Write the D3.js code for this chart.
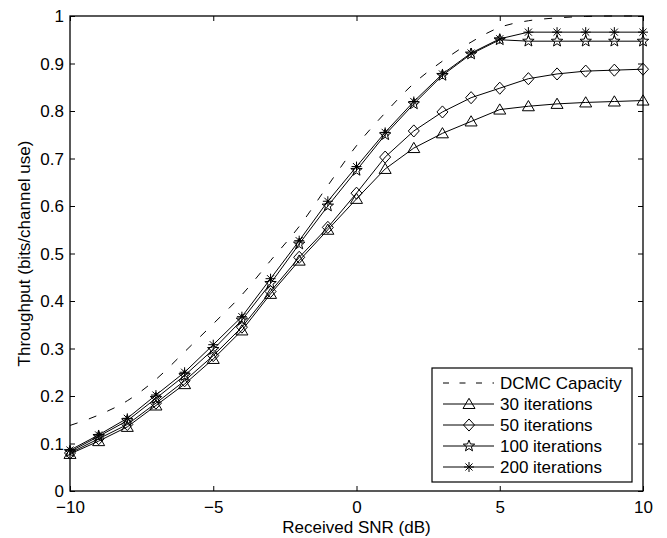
<!DOCTYPE html>
<html><head><meta charset="utf-8">
<script src="https://cdn.jsdelivr.net/npm/d3@7"></script>
<style>body{margin:0;background:#fff}svg{display:block}text{font-family:"Liberation Sans",Arial,Helvetica,sans-serif;fill:#000}</style>
</head><body><svg id="c" width="667" height="538"></svg>
<script>
const snr = [-10,-9,-8,-7,-6,-5,-4,-3,-2,-1,0,1,2,3,4,5,6,7,8,9,10];
const dcmc = [0.138,0.160,0.190,0.235,0.293,0.352,0.413,0.485,0.557,0.643,0.727,0.796,0.858,0.905,0.945,0.976,0.990,0.996,0.999,1.0,1.0];
const it30 = [0.078,0.105,0.135,0.180,0.225,0.278,0.338,0.415,0.485,0.550,0.615,0.678,0.722,0.753,0.778,0.803,0.810,0.815,0.818,0.820,0.822];
const it50 = [0.080,0.110,0.140,0.185,0.232,0.285,0.345,0.420,0.492,0.555,0.627,0.703,0.758,0.798,0.828,0.848,0.868,0.878,0.884,0.886,0.888];
const it100 = [0.083,0.115,0.148,0.195,0.243,0.298,0.360,0.437,0.520,0.600,0.675,0.750,0.815,0.875,0.920,0.950,0.947,0.947,0.947,0.947,0.947];
const it200 = [0.086,0.118,0.153,0.202,0.250,0.308,0.367,0.447,0.527,0.610,0.683,0.755,0.820,0.878,0.922,0.952,0.966,0.966,0.966,0.966,0.966];
const xTicks = [-10,-5,0,5,10];
const yTicks = [0,0.1,0.2,0.3,0.4,0.5,0.6,0.7,0.8,0.9,1];
const legendLabels = ["DCMC Capacity","30 iterations","50 iterations","100 iterations","200 iterations"];

const L=70,R=643,T=16,B=491, FS=17;
const svg=d3.select("#c");
const x=d3.scaleLinear().domain([-10,10]).range([L,R]);
const y=d3.scaleLinear().domain([0,1]).range([B,T]);

// ticks (inward, all sides)
const g=svg.append("g");
const axB=g.append("g").attr("transform",`translate(0,${B})`).call(d3.axisBottom(x).tickValues(xTicks).tickSizeInner(-5).tickSizeOuter(0).tickFormat(d=>d<0?"\u2212"+Math.abs(d):d));
const axL=g.append("g").attr("transform",`translate(${L},0)`).call(d3.axisLeft(y).tickValues(yTicks).tickSizeInner(-5).tickSizeOuter(0).tickFormat(d=>d===0?"0":d===1?"1":d3.format(".1f")(d)));
const axT=g.append("g").attr("transform",`translate(0,${T})`).call(d3.axisTop(x).tickValues(xTicks).tickSizeInner(-5).tickSizeOuter(0).tickFormat(""));
const axR=g.append("g").attr("transform",`translate(${R},0)`).call(d3.axisRight(y).tickValues(yTicks).tickSizeInner(-5).tickSizeOuter(0).tickFormat(""));
[axB,axL,axT,axR].forEach(a=>{a.select(".domain").remove();a.selectAll("line").attr("stroke","#000").attr("stroke-width",1);});
axB.selectAll("text").attr("font-size",FS).attr("font-family","Liberation Sans, Arial, sans-serif").attr("dy",null).attr("y",22);
axL.selectAll("text").attr("font-size",FS).attr("font-family","Liberation Sans, Arial, sans-serif").attr("x",-6).attr("dy","0.35em");

svg.append("rect").attr("x",L).attr("y",T).attr("width",R-L).attr("height",B-T).attr("fill","none").attr("stroke","#000").attr("stroke-width",1.3);

svg.append("text").attr("x",(L+R)/2).attr("y",533).attr("text-anchor","middle").attr("font-size",FS).text("Received SNR (dB)");
svg.append("text").attr("transform",`translate(30,${(T+B)/2}) rotate(-90)`).attr("text-anchor","middle").attr("font-size",FS).text("Throughput (bits/channel use)");

// marker symbols
function tri(s){return `M0,${-s*0.95}L${s},${s*0.75}L${-s},${s*0.75}Z`;}
function dia(s){return `M0,${-s*1.1}L${s},0L0,${s*1.1}L${-s},0Z`;}
function star(s){let p="";for(let i=0;i<10;i++){const r=i%2?s*0.42:s;const a=-Math.PI/2+i*Math.PI/5;p+=(i?"L":"M")+(r*Math.cos(a)).toFixed(2)+","+(r*Math.sin(a)).toFixed(2);}return p+"Z";}
function ast(s){const d=s*0.707;return `M0,${-s}L0,${s}M${-s},0L${s},0M${-d},${-d}L${d},${d}M${-d},${d}L${d},${-d}`;}
const markers=[null,p=>tri(6),p=>dia(5.5),p=>star(6),p=>ast(5)];

const line=d3.line().x(d=>x(d[0])).y(d=>y(d[1]));
const series=[dcmc,it30,it50,it100,it200];
const plot=svg.append("g");
series.forEach((vals,i)=>{
  const data=snr.map((s,j)=>[s,vals[j]]);
  plot.append("path").datum(data).attr("d",i===0?line.curve(d3.curveMonotoneX)(data):d3.line().x(d=>x(d[0])).y(d=>y(d[1]))(data))
    .attr("fill","none").attr("stroke","#000").attr("stroke-width",1)
    .attr("stroke-dasharray",i===0?"8,12":null);
  if(markers[i]){
    plot.selectAll(null).data(data).enter().append("path")
      .attr("transform",d=>`translate(${x(d[0])},${y(d[1])})`).attr("d",markers[i]())
      .attr("fill","none").attr("stroke","#000").attr("stroke-width",1);
  }
});

// legend
const lg=svg.append("g");
lg.append("rect").attr("x",432).attr("y",368).attr("width",200).attr("height",114).attr("fill","#fff").attr("stroke","#000").attr("stroke-width",1.2);
const rows=[383,404,425,446,467];
legendLabels.forEach((t,i)=>{
  lg.append("line").attr("x1",443).attr("x2",494).attr("y1",rows[i]).attr("y2",rows[i]).attr("stroke","#000").attr("stroke-width",1).attr("stroke-dasharray",i===0?"6,10.5":null);
  if(markers[i]) lg.append("path").attr("transform",`translate(469,${rows[i]})`).attr("d",markers[i]()).attr("fill","none").attr("stroke","#000");
  lg.append("text").attr("x",500).attr("y",rows[i]).attr("dy","0.35em").attr("font-size",FS).text(t);
});
</script></body></html>
